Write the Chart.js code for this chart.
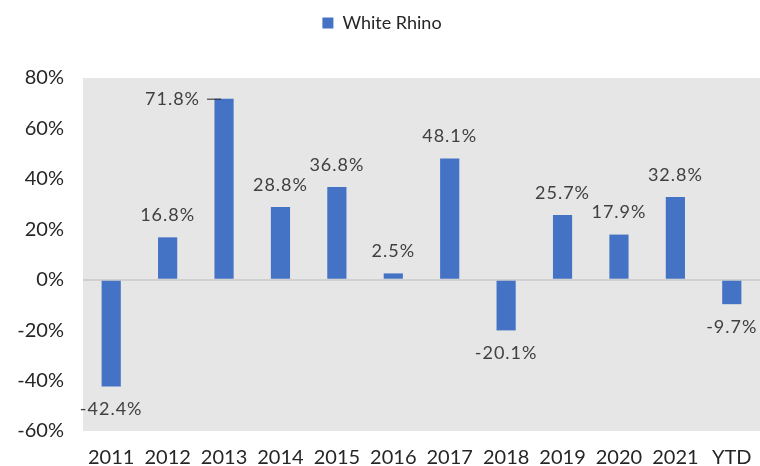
<!DOCTYPE html>
<html lang="en">
<head>
<meta charset="UTF-8">
<title>White Rhino</title>
<script src="https://cdn.jsdelivr.net/npm/chart.js"></script>
<style>
  html, body { margin: 0; padding: 0; background: #fff; }
  #wrap { width: 760px; height: 466px; position: relative; }
</style>
</head>
<body>
<div id="wrap"><canvas id="chart"></canvas></div>
<script>
var years = ['2011', '2012', '2013', '2014', '2015', '2016', '2017', '2018', '2019', '2020', '2021', 'YTD'];
var returns = [-42.4, 16.8, 71.8, 28.8, 36.8, 2.5, 48.1, -20.1, 25.7, 17.9, 32.8, -9.7];
var seriesName = 'White Rhino';

var FONT = 'Lato, "DejaVu Sans", sans-serif';

// grey plot background
var plotBg = {
  id: 'plotBg',
  beforeDraw: function(chart) {
    var a = chart.chartArea, ctx = chart.ctx;
    ctx.save();
    ctx.fillStyle = '#e6e6e6';
    ctx.fillRect(a.left, a.top, a.right - a.left, a.bottom - a.top);
    ctx.restore();
  }
};

// make the legend box taller so the plot starts lower
var legendSpace = {
  id: 'legendSpace',
  beforeLayout: function(chart) {
    var lg = chart.legend;
    if (lg && !lg._patched) {
      var fit = lg.fit;
      lg.fit = function() { fit.call(this); this.height = 70; };
      lg._patched = true;
    }
  }
};

// value labels above / below bars
var valueLabels = {
  id: 'valueLabels',
  afterDatasetsDraw: function(chart) {
    var ctx = chart.ctx, meta = chart.getDatasetMeta(0);
    ctx.save();
    ctx.font = '18px ' + FONT;
    ctx.letterSpacing = '1px';
    ctx.fillStyle = '#404040';
    ctx.textBaseline = 'middle';
    meta.data.forEach(function(bar, i) {
      var v = returns[i];
      var txt = v.toFixed(1) + '%';
      if (bar.y - 22 < chart.chartArea.top + 10) {
        // no room above: put it on the left with a small leader
        ctx.textAlign = 'right';
        ctx.fillText(txt, bar.x - 24, bar.y + 1);
        ctx.strokeStyle = '#262626';
        ctx.lineWidth = 1;
        ctx.beginPath();
        ctx.moveTo(bar.x - 17, bar.y + 0.5);
        ctx.lineTo(bar.x - 3, bar.y + 0.5);
        ctx.stroke();
        return;
      }
      ctx.textAlign = 'center';
      if (v >= 0) ctx.fillText(txt, bar.x, bar.y - 22);
      else ctx.fillText(txt, bar.x, bar.y + 23);
    });
    ctx.restore();
  }
};

new Chart(document.getElementById('chart'), {
  type: 'bar',
  data: {
    labels: years,
    datasets: [{
      label: seriesName,
      data: returns,
      backgroundColor: '#4472c4',
      borderWidth: 0,
      barPercentage: 0.34,
      categoryPercentage: 1
    }]
  },
  options: {
    responsive: true,
    maintainAspectRatio: false,
    animation: false,
    layout: { padding: { top: 8, right: -4, left: 0, bottom: 0 } },
    plugins: {
      tooltip: { enabled: false },
      legend: {
        position: 'top',
        labels: {
          boxWidth: 11,
          boxHeight: 11,
          padding: 6,
          color: '#262626',
          font: { size: 18, family: FONT }
        }
      }
    },
    scales: {
      x: {
        afterFit: function(s) { s.height = 35; },
        grid: { display: false },
        border: { display: false },
        ticks: {
          color: '#262626',
          font: { size: 20, family: FONT },
          padding: 7,
          maxRotation: 0
        }
      },
      y: {
        min: -60,
        max: 80,
        afterFit: function(s) { s.width = 83; },
        border: { display: false },
        grid: {
          drawTicks: false,
          color: function(c) { return c.tick.value === 0 ? '#d0d0d0' : 'rgba(0,0,0,0)'; },
          lineWidth: 2
        },
        ticks: {
          stepSize: 20,
          color: '#262626',
          padding: 19,
          font: { size: 20, family: FONT },
          callback: function(v) { return v + '%'; }
        }
      }
    }
  },
  plugins: [legendSpace, plotBg, valueLabels]
});
</script>
</body>
</html>
